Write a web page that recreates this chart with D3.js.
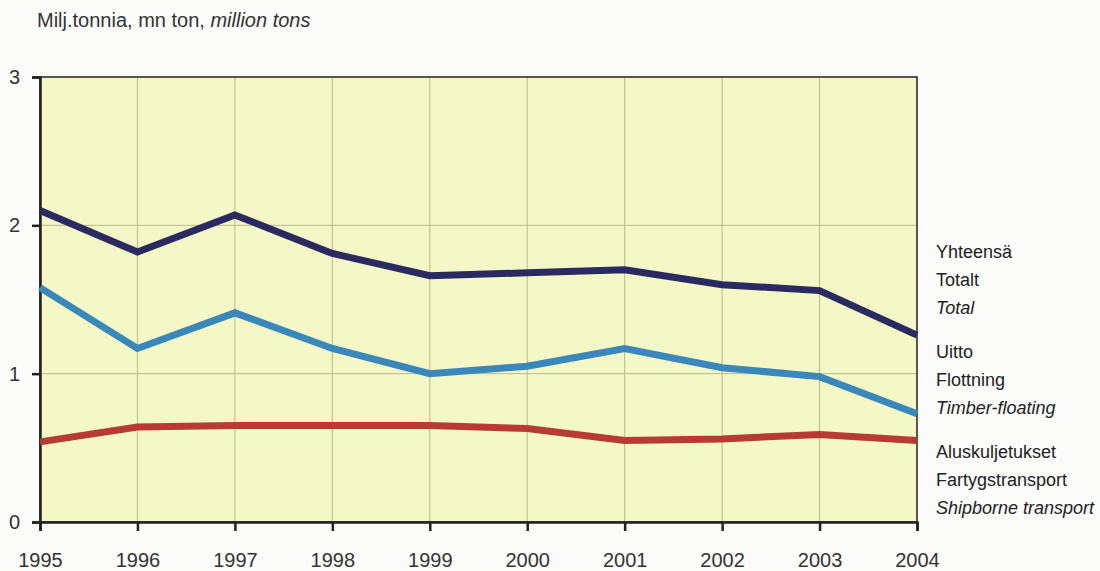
<!DOCTYPE html>
<html>
<head>
<meta charset="utf-8">
<script src="https://cdn.jsdelivr.net/npm/d3@7"></script>
<style>
  body { margin: 0; background: #fbfbf9; }
  svg { display: block; font-family: "Liberation Sans", Arial, sans-serif; }
</style>
</head>
<body>
<svg id="chart"></svg>
<script>
const years = [1995, 1996, 1997, 1998, 1999, 2000, 2001, 2002, 2003, 2004];
const totalValues = [2.10, 1.82, 2.07, 1.81, 1.66, 1.68, 1.70, 1.60, 1.56, 1.26];
const floatingValues = [1.58, 1.17, 1.41, 1.17, 1.00, 1.05, 1.17, 1.04, 0.98, 0.73];
const shipValues = [0.54, 0.64, 0.65, 0.65, 0.65, 0.63, 0.55, 0.56, 0.59, 0.55];
const yTicks = [0, 1, 2, 3];
const seriesNames = [
  ["Yhteensä", "Totalt", "Total"],
  ["Uitto", "Flottning", "Timber-floating"],
  ["Aluskuljetukset", "Fartygstransport", "Shipborne transport"]
];
const titleParts = ["Milj.tonnia, mn ton, ", "million tons"];

const width = 1100, height = 571;
const margin = { top: 77, right: 183, bottom: 49, left: 40 };
const innerW = width - margin.left - margin.right;
const innerH = height - margin.top - margin.bottom;

const svg = d3.select("#chart").attr("width", width).attr("height", height);

const xScale = d3.scaleLinear().domain(d3.extent(years)).range([0, innerW]);
const yScale = d3.scaleLinear().domain([0, 3]).range([innerH, 0]);

const g = svg.append("g").attr("transform", `translate(${margin.left},${margin.top})`);

// plot background
g.append("rect")
  .attr("width", innerW)
  .attr("height", innerH)
  .attr("fill", "#f3f8c6");

// grid
g.selectAll(".vgrid")
  .data(years.slice(1, -1))
  .join("line")
  .attr("x1", d => xScale(d))
  .attr("x2", d => xScale(d))
  .attr("y1", 0)
  .attr("y2", innerH)
  .attr("stroke", "#b9b98e")
  .attr("stroke-width", 1);

g.selectAll(".hgrid")
  .data(yTicks.slice(1, -1))
  .join("line")
  .attr("x1", 0)
  .attr("x2", innerW)
  .attr("y1", d => yScale(d))
  .attr("y2", d => yScale(d))
  .attr("stroke", "#b9b98e")
  .attr("stroke-width", 1);

// frame
g.append("rect")
  .attr("width", innerW)
  .attr("height", innerH)
  .attr("fill", "none")
  .attr("stroke", "#222")
  .attr("stroke-width", 1.5);

const xAxis = d3.axisBottom(xScale).tickValues(years).tickFormat(d3.format("d")).tickSize(9).tickPadding(22);
const yAxis = d3.axisLeft(yScale).tickValues(yTicks).tickFormat(d3.format("d")).tickSize(8).tickPadding(12);

const xg = g.append("g").attr("transform", `translate(0,${innerH})`).call(xAxis);
const yg = g.append("g").call(yAxis);

[xg, yg].forEach(ax => {
  ax.select(".domain").attr("stroke", "#222").attr("stroke-width", 2.5);
  ax.selectAll(".tick line").attr("stroke", "#222").attr("stroke-width", 2.5);
  ax.selectAll(".tick text")
    .attr("fill", "#333")
    .style("font-size", "20px")
    .style("font-family", "'Liberation Sans', Arial, sans-serif");
});

// lines
const line = d3.line().x((d, i) => xScale(years[i])).y(d => yScale(d));
const seriesData = [
  { values: shipValues, color: "#b63b35" },
  { values: floatingValues, color: "#3a87b9" },
  { values: totalValues, color: "#2b2a60" }
];

g.selectAll(".series")
  .data(seriesData)
  .join("path")
  .attr("d", d => line(d.values))
  .attr("fill", "none")
  .attr("stroke", d => d.color)
  .attr("stroke-width", 7)
  .attr("stroke-linejoin", "miter");

// title
const title = svg.append("text")
  .attr("x", 37)
  .attr("y", 27)
  .attr("fill", "#333")
  .style("font-size", "20px");
title.append("tspan").text(titleParts[0]);
title.append("tspan").style("font-style", "italic").text(titleParts[1]);

// legend
const legendX = 936;
const legendTop = [252, 352, 452];
const legendStep = 28;
seriesNames.forEach((names, si) => {
  names.forEach((name, li) => {
    svg.append("text")
      .attr("x", legendX)
      .attr("y", legendTop[si] + li * legendStep)
      .attr("dy", "0.35em")
      .attr("fill", "#222")
      .style("font-size", "18px")
      .style("font-style", li === 2 ? "italic" : "normal")
      .text(name);
  });
});
</script>
</body>
</html>
